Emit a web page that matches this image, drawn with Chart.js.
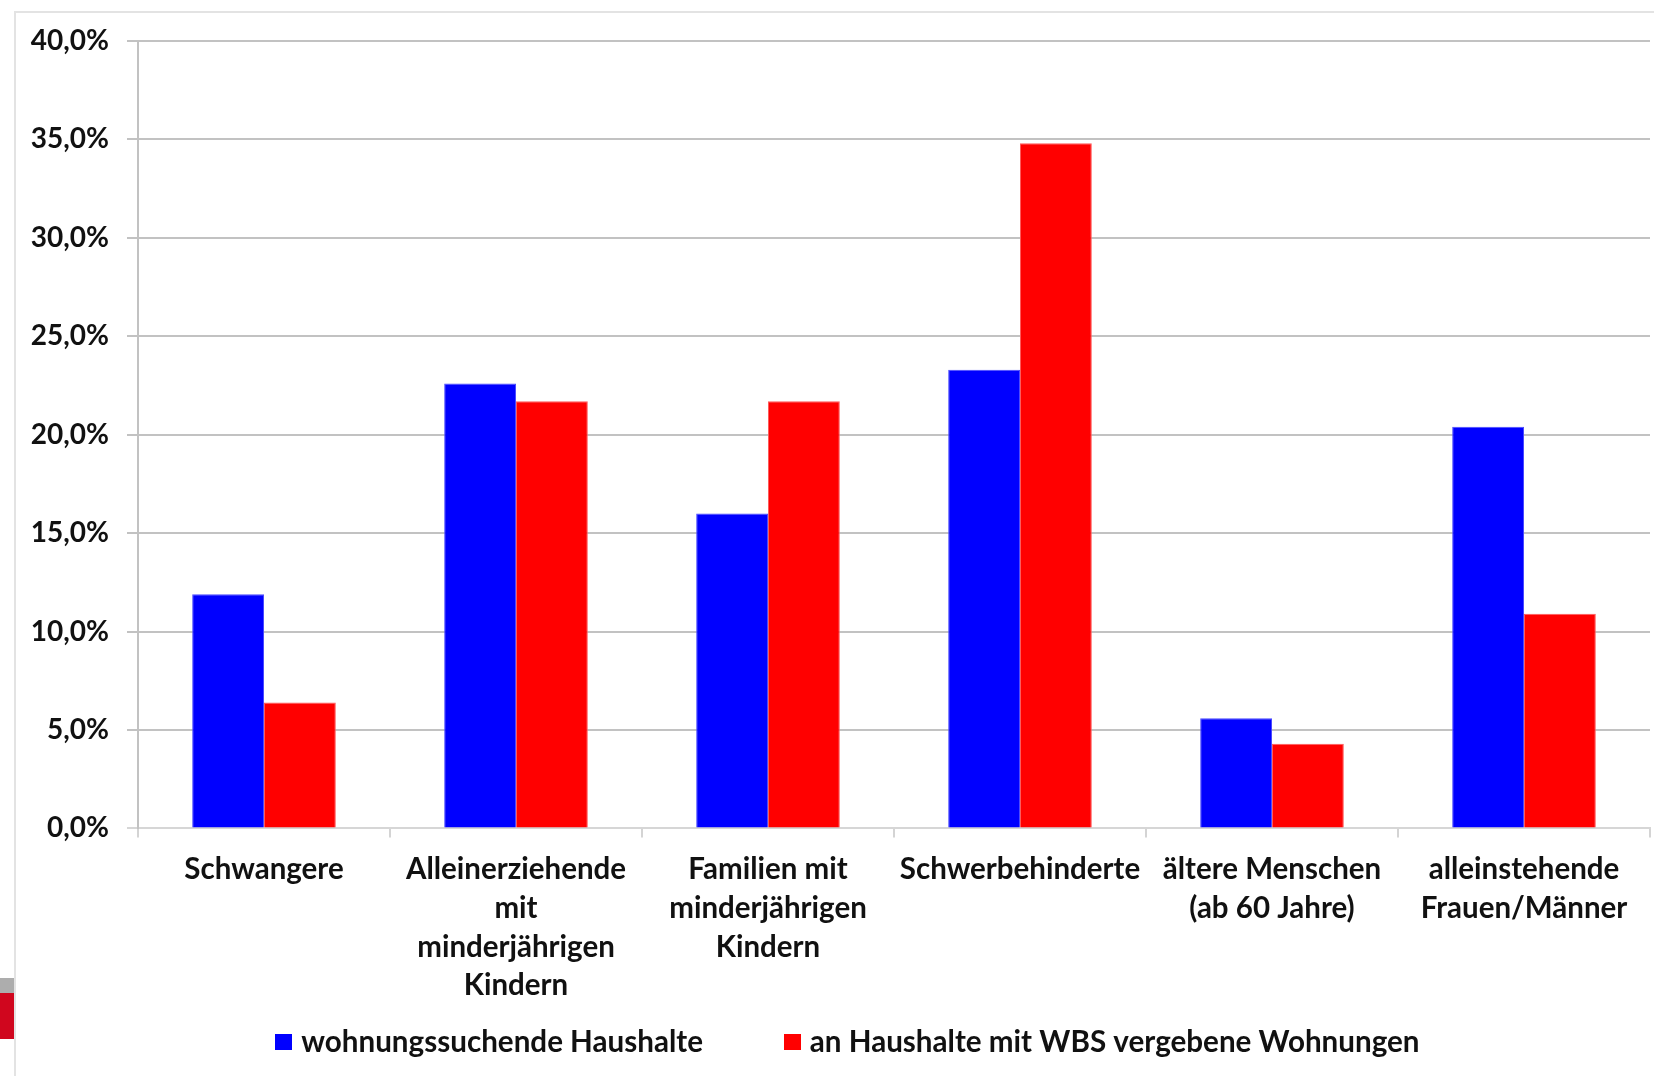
<!DOCTYPE html>
<html lang="de">
<head>
<meta charset="utf-8">
<title>Wohnungssuchende Haushalte und vergebene Wohnungen</title>
<script src="https://cdn.jsdelivr.net/npm/chart.js@4/dist/chart.umd.min.js"></script>
<style>
  html, body { margin: 0; padding: 0; background: #ffffff; }
  #page { position: relative; width: 1654px; height: 1076px; overflow: hidden; }
  #frame {
    position: absolute; left: 14px; top: 11px; right: -4px; bottom: -4px;
    border-left: 2px solid #e3e3e3; border-top: 2px solid #e3e3e3;
  }
  .tab { position: absolute; left: 0; width: 14px; }
  #tab-grey { top: 978px; height: 15px; background: #adadad; }
  #tab-red { top: 993px; height: 46px; background: #d0061e; }
  #chart { position: absolute; left: 0; top: 0; }
</style>
</head>
<body>
<div id="page">
  <div id="frame"></div>
  <div class="tab" id="tab-grey"></div>
  <div class="tab" id="tab-red"></div>
  <canvas id="chart" width="1654" height="1076"></canvas>
</div>
<script>
// Haushaltsgruppen (x-axis categories, one line per entry)
const categories = [
  'Schwangere',
  ['Alleinerziehende', 'mit', 'minderjährigen', 'Kindern'],
  ['Familien mit', 'minderjährigen', 'Kindern'],
  'Schwerbehinderte',
  ['ältere Menschen', '(ab 60 Jahre)'],
  ['alleinstehende', 'Frauen/Männer']
];

// Shares in percent
const seriesNames = ['wohnungssuchende Haushalte', 'an Haushalte mit WBS vergebene Wohnungen'];
const wohnungssuchend = [11.9, 22.6, 16.0, 23.3, 5.6, 20.4];
const vergeben = [6.4, 21.7, 21.7, 34.8, 4.3, 10.9];
const seriesColors = ['#0000ff', '#ff0000'];
const seriesEdges = ['#4a4aff', '#ff5a5a'];

// Value axis
const yMin = 0;
const yMax = 40;
const yStep = 5;

const fontFamily = 'Lato, "Open Sans", "DejaVu Sans", sans-serif';
const textColor = '#111111';
const LEGEND_FONT = 29.6;
const LEGEND_PAD = 87;

const formatPercent = v => v.toFixed(1).replace('.', ',') + '%';

// Small square swatches for the legend, drawn close to their label text
function makeSwatch(color) {
  const c = document.createElement('canvas');
  c.width = 17;
  c.height = 16;
  const g = c.getContext('2d');
  g.fillStyle = color;
  g.fillRect(0, 0, 17, 16);
  return c;
}
const swatches = seriesColors.map(makeSwatch);

// Let the tick labels run past their axis boxes without being clipped
const unclipLabels = {
  id: 'unclipLabels',
  afterLayout(chart) {
    chart.scales.x.bottom = chart.height;
    chart.scales.y.left = 0;
  }
};

new Chart(document.getElementById('chart'), {
  type: 'bar',
  data: {
    labels: categories,
    datasets: [
      {
        label: seriesNames[0],
        data: wohnungssuchend,
        backgroundColor: seriesColors[0],
        borderColor: seriesEdges[0],
        borderWidth: 1,
        borderSkipped: 'bottom'
      },
      {
        label: seriesNames[1],
        data: vergeben,
        backgroundColor: seriesColors[1],
        borderColor: seriesEdges[1],
        borderWidth: 1,
        borderSkipped: 'bottom'
      }
    ]
  },
  plugins: [unclipLabels],
  options: {
    responsive: false,
    animation: false,
    devicePixelRatio: 1,
    categoryPercentage: 0.57,
    barPercentage: 1.0,
    layout: { padding: { left: 51, right: 4, top: 41, bottom: 9 } },
    plugins: {
      tooltip: { enabled: false },
      legend: {
        position: 'bottom',
        labels: {
          font: { family: fontFamily, size: LEGEND_FONT, weight: 'bold' },
          color: textColor,
          usePointStyle: true,
          pointStyleWidth: 5,
          boxHeight: 16,
          padding: LEGEND_PAD,
          generateLabels: chart => {
            const items = Chart.defaults.plugins.legend.labels.generateLabels(chart);
            items.forEach((item, i) => { item.pointStyle = swatches[i]; });
            return items;
          }
        }
      }
    },
    scales: {
      x: {
        offset: true,
        grid: {
          offset: true,
          drawOnChartArea: false,
          drawTicks: true,
          tickLength: 9,
          color: '#d4d4d4',
          lineWidth: 2
        },
        border: { color: '#d6d6d6', width: 2 },
        ticks: {
          autoSkip: false,
          maxRotation: 0,
          minRotation: 0,
          padding: 13,
          color: textColor,
          font: { family: fontFamily, size: 29.5, weight: 'bold', lineHeight: 1.31 }
        },
        afterFit: scale => { scale.height = Math.round(1076 - 9 - (LEGEND_FONT + LEGEND_PAD + 10) - 828); }
      },
      y: {
        min: yMin,
        max: yMax,
        grid: {
          color: ctx => (ctx.tick && ctx.tick.value === 0 ? '#d6d6d6' : '#c2c2c2'),
          lineWidth: 2,
          tickLength: 11
        },
        border: { color: '#c2c2c2', width: 2 },
        ticks: {
          stepSize: yStep,
          padding: 18,
          color: textColor,
          font: { family: fontFamily, size: 28, weight: 'bold' },
          callback: value => formatPercent(value)
        },
        afterFit: scale => { scale.width = 87; }
      }
    }
  }
});
</script>
</body>
</html>
